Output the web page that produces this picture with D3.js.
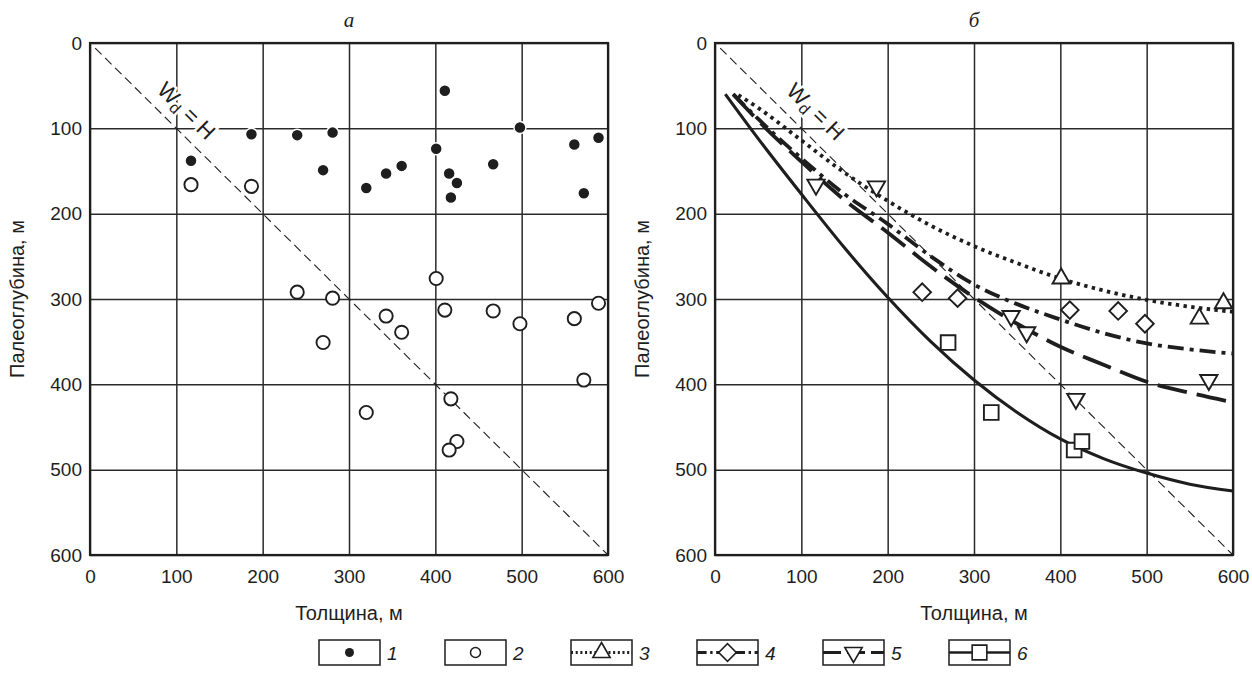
<!DOCTYPE html>
<html>
<head>
<meta charset="utf-8">
<script src="https://cdn.jsdelivr.net/npm/d3@7"></script>
<style>
  body { margin: 0; background: #fff; }
  svg { display: block; }
</style>
</head>
<body>
<div id="chart"></div>
<script>
// points of panel "а"
const set1X = [117, 187, 240, 281, 270, 320, 343, 361, 411, 401, 416, 425, 418, 467, 498, 561, 589, 572];
const set1Y = [138, 107, 108, 105, 149, 170, 153, 144, 56, 124, 153, 164, 181, 142, 99, 119, 111, 176];
const set2X = [117, 187, 240, 281, 270, 320, 343, 361, 401, 411, 418, 425, 416, 467, 498, 561, 589, 572];
const set2Y = [166, 168, 292, 299, 351, 433, 320, 339, 276, 313, 417, 467, 477, 314, 329, 323, 305, 395];

// markers of panel "б"
const set3X = [401, 561, 589];
const set3Y = [276, 323, 305];
const set4X = [240, 281, 411, 467, 498];
const set4Y = [292, 299, 313, 314, 329];
const set5X = [117, 187, 343, 361, 418, 572];
const set5Y = [166, 168, 320, 339, 417, 395];
const set6X = [270, 320, 416, 425];
const set6Y = [351, 433, 477, 467];

// fitted curves of panel "б"
const curveX = [50, 100, 150, 200, 250, 300, 350, 400, 450, 500, 550, 600];
const curve3Y = [76, 114, 152, 185, 214, 238, 258, 276, 290, 301, 309, 315];
const curve4Y = [89, 135, 177, 212, 250, 283, 306, 324, 340, 352, 359, 364];
const curve5Y = [91, 139, 184, 222, 262, 298, 329, 356, 377, 397, 410, 421];
const curve6Y = [112, 177, 240, 298, 350, 395, 433, 464, 487, 504, 517, 525];
const curveStart = [[27, 61], [21, 60], [21, 60], [12, 60]];

const ticks = [0, 100, 200, 300, 400, 500, 600];
const legendLabels = ["1", "2", "3", "4", "5", "6"];

const W = 1252, H = 690;
const ink = "#1e1e1e";
const sans = "'Liberation Sans', Arial, sans-serif";
const serif = "'Liberation Serif', 'Times New Roman', serif";

const svg = d3.select("#chart").append("svg")
  .attr("width", W).attr("height", H)
  .attr("font-family", sans);

const y = d3.scaleLinear().domain([0, 600]).range([43, 555]);
const xL = d3.scaleLinear().domain([0, 600]).range([90, 608]);
const xR = d3.scaleLinear().domain([0, 600]).range([715, 1233]);

const zip = (a, b) => a.map((v, i) => [v, b[i]]);

function panel(x, title, labelPos) {
  const g = svg.append("g");

  // grid
  g.append("g")
    .attr("transform", `translate(0,${y(600)})`)
    .call(d3.axisBottom(x).tickValues(ticks).tickSize(-(y(600) - y(0))).tickFormat(""))
    .call(s => s.select(".domain").remove())
    .call(s => s.selectAll("line").attr("stroke", "#2a2a2a").attr("stroke-width", 1.5));
  g.append("g")
    .attr("transform", `translate(${x(0)},0)`)
    .call(d3.axisLeft(y).tickValues(ticks).tickSize(-(x(600) - x(0))).tickFormat(""))
    .call(s => s.select(".domain").remove())
    .call(s => s.selectAll("line").attr("stroke", "#2a2a2a").attr("stroke-width", 1.5));

  // frame
  g.append("rect")
    .attr("x", x(0)).attr("y", y(0))
    .attr("width", x(600) - x(0)).attr("height", y(600) - y(0))
    .attr("fill", "none").attr("stroke", ink).attr("stroke-width", 2.2);

  // tick labels
  g.append("g")
    .attr("transform", `translate(0,${y(600)})`)
    .call(d3.axisBottom(x).tickValues(ticks).tickSize(0).tickPadding(15))
    .call(s => s.select(".domain").remove())
    .call(s => s.selectAll("text").attr("font-size", 19).attr("font-family", sans).attr("fill", ink));
  g.append("g")
    .attr("transform", `translate(${x(0)},0)`)
    .call(d3.axisLeft(y).tickValues(ticks).tickSize(0).tickPadding(8))
    .call(s => s.select(".domain").remove())
    .call(s => s.selectAll("text").attr("font-size", 19).attr("font-family", sans).attr("fill", ink));

  // axis titles
  g.append("text")
    .attr("x", (x(0) + x(600)) / 2).attr("y", 620)
    .attr("text-anchor", "middle").attr("font-size", 20).attr("fill", ink)
    .text("Толщина, м");
  g.append("text")
    .attr("transform", `translate(${x(0) - 66},${(y(0) + y(600)) / 2}) rotate(-90)`)
    .attr("text-anchor", "middle").attr("font-size", 20).attr("fill", ink)
    .text("Палеоглубина, м");

  // panel title
  g.append("text")
    .attr("x", (x(0) + x(600)) / 2).attr("y", 27)
    .attr("text-anchor", "middle").attr("font-size", 21)
    .attr("font-family", serif).attr("font-style", "italic").attr("fill", ink)
    .text(title);

  // W_d = H line
  g.append("line")
    .attr("x1", x(6)).attr("y1", y(6)).attr("x2", x(600)).attr("y2", y(600))
    .attr("stroke", ink).attr("stroke-width", 1.1).attr("stroke-dasharray", "9,5");

  const lab = g.append("text")
    .attr("transform", `translate(${x(labelPos[0])},${y(labelPos[1])}) rotate(44.6)`)
    .attr("text-anchor", "middle").attr("dominant-baseline", "central")
    .attr("font-size", 22).attr("fill", ink)
    .attr("stroke", "#fff").attr("stroke-width", 5).attr("paint-order", "stroke");
  lab.append("tspan").text("W");
  lab.append("tspan").attr("font-size", 16).attr("dy", 6).text("d");
  lab.append("tspan").attr("dy", -6).text(" = H");

  return g;
}

const gA = panel(xL, "а", [112, 79]);
const gB = panel(xR, "б", [117, 80]);

// panel а points
gA.append("g").selectAll("circle")
  .data(zip(set2X, set2Y)).join("circle")
  .attr("cx", d => xL(d[0])).attr("cy", d => y(d[1])).attr("r", 6.6)
  .attr("fill", "#fff").attr("stroke", ink).attr("stroke-width", 1.9);
gA.append("g").selectAll("circle")
  .data(zip(set1X, set1Y)).join("circle")
  .attr("cx", d => xL(d[0])).attr("cy", d => y(d[1])).attr("r", 6)
  .attr("fill", ink).attr("stroke", "#fff").attr("stroke-width", 1.5);

// panel б curves
const styles = [
  { dash: "3.4,4.4", width: 3.8 },
  { dash: "16,6,4,6", width: 3.8 },
  { dash: "30,10", width: 3.8 },
  { dash: null, width: 3.1 }
];
const curveYs = [curve3Y, curve4Y, curve5Y, curve6Y];
const line = d3.line().x(d => xR(d[0])).y(d => y(d[1])).curve(d3.curveMonotoneX);

curveYs.forEach((cy, i) => {
  const pts = [curveStart[i]].concat(zip(curveX, cy));
  gB.append("path")
    .attr("d", line(pts))
    .attr("fill", "none").attr("stroke", ink)
    .attr("stroke-width", styles[i].width)
    .attr("stroke-dasharray", styles[i].dash);
});

// panel б markers
const symbols = [
  { type: d3.symbolTriangle, size: 130, rot: 0 },
  { type: d3.symbolSquare, size: 155, rot: 45 },
  { type: d3.symbolTriangle, size: 130, rot: 180 },
  { type: d3.symbolSquare, size: 215, rot: 0 }
];
const markerSets = [zip(set3X, set3Y), zip(set4X, set4Y), zip(set5X, set5Y), zip(set6X, set6Y)];
markerSets.forEach((pts, i) => {
  const sym = d3.symbol().type(symbols[i].type).size(symbols[i].size);
  gB.append("g").selectAll("path")
    .data(pts).join("path")
    .attr("transform", d => `translate(${xR(d[0])},${y(d[1])}) rotate(${symbols[i].rot})`)
    .attr("d", sym())
    .attr("fill", "#fff").attr("stroke", ink).attr("stroke-width", 1.9);
});

// legend
const leg = svg.append("g").attr("transform", "translate(319,640)");
const boxW = 61, boxH = 25, step = 126;
legendLabels.forEach((lbl, i) => {
  const g = leg.append("g").attr("transform", `translate(${i * step},0)`);
  g.append("rect").attr("width", boxW).attr("height", boxH)
    .attr("fill", "#fff").attr("stroke", ink).attr("stroke-width", 1.5);
  const cx = boxW / 2, cy = boxH / 2;
  if (i === 0) {
    g.append("circle").attr("cx", cx).attr("cy", cy).attr("r", 4.5).attr("fill", ink);
  } else if (i === 1) {
    g.append("circle").attr("cx", cx).attr("cy", cy).attr("r", 5)
      .attr("fill", "#fff").attr("stroke", ink).attr("stroke-width", 1.5);
  } else {
    const s = styles[i - 2];
    g.append("line").attr("x1", 0).attr("x2", boxW).attr("y1", cy).attr("y2", cy)
      .attr("stroke", ink).attr("stroke-width", s.width * 0.8)
      .attr("stroke-dasharray", s.dash ? s.dash.split(",").map(v => v * 0.6).join(",") : null);
    const m = symbols[i - 2];
    g.append("path")
      .attr("transform", `translate(${cx},${cy}) rotate(${m.rot})`)
      .attr("d", d3.symbol().type(m.type).size(m.size)())
      .attr("fill", "#fff").attr("stroke", ink).attr("stroke-width", 1.6);
  }
  g.append("text").attr("x", boxW + 7).attr("y", cy + 7)
    .attr("font-size", 19).attr("font-style", "italic").attr("fill", ink)
    .text(lbl);
});
</script>
</body>
</html>
